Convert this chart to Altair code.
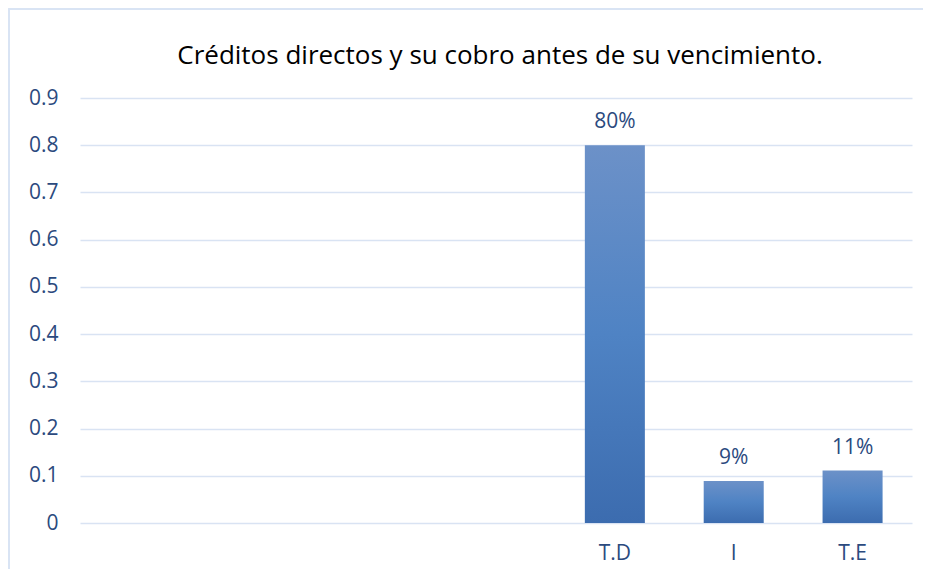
import altair as alt
import pandas as pd

categories = ["c1", "c2", "c3", "c4", "T.D", "I", "T.E"]
tick_labels = ["", "", "", "", "T.D", "I", "T.E"]
values = [None, None, None, None, 0.80, 0.089, 0.111]
value_labels = ["", "", "", "", "80%", "9%", "11%"]

df = pd.DataFrame({"cat": categories, "val": values, "lab": value_labels})
bars_df = df.dropna()

label_map = "{" + ",".join(f"'{c}':'{t}'" for c, t in zip(categories, tick_labels)) + "}"

FONT = "Open Sans"
LABEL_COLOR = "#2B4A7E"
GRID = "#D9E3F3"

x_enc = alt.X(
    "cat:N",
    sort=categories,
    scale=alt.Scale(domain=categories, paddingInner=0.495, paddingOuter=0.2475),
    axis=alt.Axis(
        title=None, labelAngle=0, ticks=False, domain=False,
        labelExpr=f"{label_map}[datum.value]",
        labelFont=FONT, labelFontSize=21, labelColor=LABEL_COLOR, labelPadding=19,
    ),
)
y_enc = alt.Y(
    "val:Q",
    scale=alt.Scale(domain=[0, 0.9], nice=False),
    axis=alt.Axis(
        title=None, values=[0, 0.1, 0.2, 0.3, 0.4, 0.5, 0.6, 0.7, 0.8, 0.9],
        format="~g", ticks=False, domain=False, grid=True,
        gridColor=GRID, gridWidth=1.5,
        labelFont=FONT, labelFontSize=21, labelColor=LABEL_COLOR, labelPadding=22,
    ),
)

gradient = alt.Gradient(
    gradient="linear",
    stops=[alt.GradientStop(color="#6C91C8", offset=0),
           alt.GradientStop(color="#4F83C4", offset=0.5),
           alt.GradientStop(color="#3C6CAF", offset=1)],
    x1=0, x2=0, y1=0, y2=1,
)

bars = alt.Chart(bars_df).mark_bar(color=gradient).encode(x=x_enc, y=y_enc)

text = alt.Chart(bars_df).mark_text(
    baseline="bottom", dy=-13, font=FONT, fontSize=21, color=LABEL_COLOR
).encode(x=alt.X("cat:N", sort=categories), y="val:Q", text="lab:N")

border = alt.Chart(bars_df).mark_rect(
    fill=None, stroke=GRID, strokeWidth=1.5
).encode(
    x=alt.value(-71), x2=alt.value(1000), y=alt.value(-89), y2=alt.value(600)
)

chart = alt.layer(border, bars, text).properties(
    width=832,
    height=425,
    autosize=alt.AutoSizeParams(type="none"),
    padding={"left": 72, "top": 90, "right": 11, "bottom": 46},
    title=alt.Title(
        "Créditos directos y su cobro antes de su vencimiento.",
        font=FONT, fontSize=26, fontWeight="normal", color="#000000",
        anchor="middle", frame="group", offset=-61, dx=4,
    ),
).configure_view(stroke=None)

chart.save("out.html", embed_options={"renderer": "svg", "actions": False})
